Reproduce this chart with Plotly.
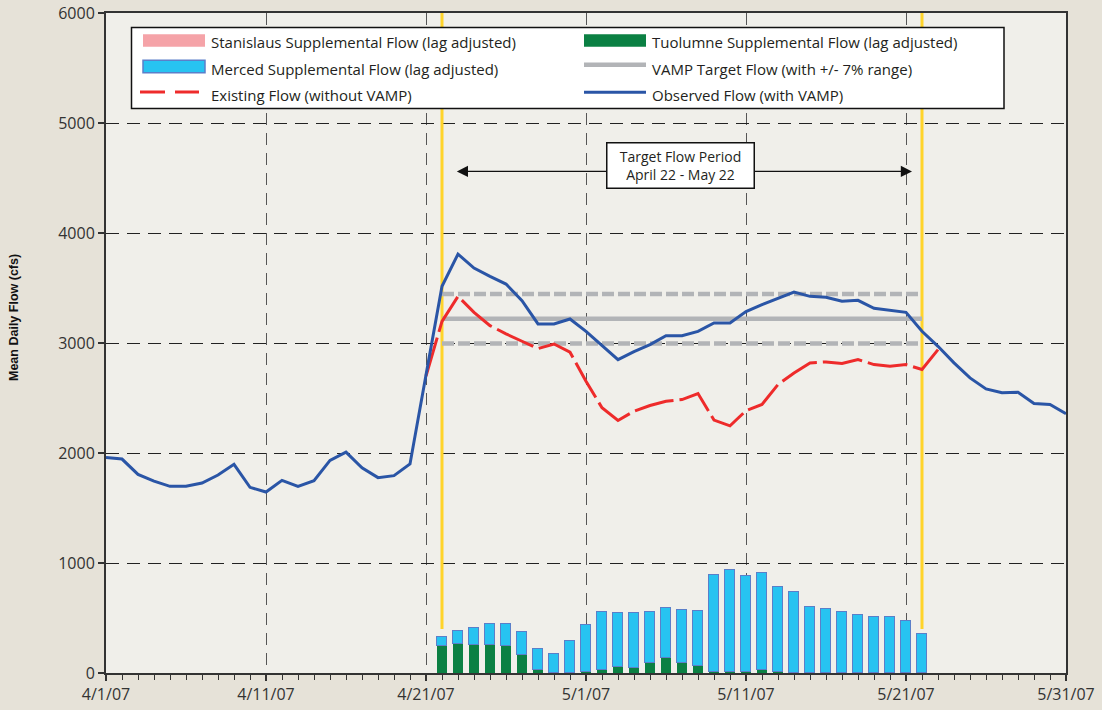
import pandas as pd
import plotly.graph_objects as go

# ---------------- data ----------------
line_dates = [d.strftime("%Y-%m-%d") for d in pd.date_range("2007-04-01", "2007-05-31")]
observed_flow = [
    1960, 1945, 1805, 1745, 1697, 1697, 1727, 1800, 1897, 1688,
    1645, 1751, 1697, 1748, 1933, 2008, 1866, 1776, 1794, 1900,
    2710, 3515, 3808, 3681, 3605, 3536, 3385, 3173, 3173, 3218,
    3106, 2975, 2849, 2922, 2985, 3067, 3067, 3106, 3182, 3182,
    3285, 3349, 3409, 3463, 3424, 3415, 3379, 3388, 3315, 3297,
    3279, 3106, 2970, 2819, 2683, 2583, 2547, 2553, 2450, 2441,
    2357,
]
existing_flow = [None] * 20 + [
    2700, 3197, 3424, 3279, 3158, 3083, 3016, 2949, 2991, 2916,
    2653, 2411, 2296, 2380, 2432, 2471, 2486, 2541, 2299, 2247,
    2385, 2441, 2622, 2728, 2819, 2828, 2813, 2849, 2804, 2789,
    2804, 2759, 2940,
] + [None] * 8

bar_dates = [d.strftime("%Y-%m-%d") for d in pd.date_range("2007-04-22", "2007-05-22")]
stanislaus = [0] * 31
tuolumne = [250, 260, 255, 255, 250, 163, 30, 0, 0, 5,
            24, 51, 42, 93, 133, 93, 63, 5, 8, 5,
            24, 5, 0, 0, 0, 0, 0, 0, 0, 0, 0]
merced = [80, 124, 150, 189, 200, 209, 190, 172, 293, 427,
          529, 493, 505, 466, 462, 481, 499, 887, 926, 881,
          883, 775, 735, 602, 581, 556, 529, 511, 505, 472, 354]

target_dates = ["2007-04-22", "2007-05-22"]
target_flow = 3220
target_upper = 3445
target_lower = 2995
period_marks = ["2007-04-22", "2007-05-22"]
period_mark_range = [400, 6000]

tick_dates = ["2007-04-01", "2007-04-11", "2007-04-21", "2007-05-01",
              "2007-05-11", "2007-05-21", "2007-05-31"]
tick_labels = ["4/1/07", "4/11/07", "4/21/07", "5/1/07", "5/11/07", "5/21/07", "5/31/07"]

legend_labels = [
    "Stanislaus Supplemental Flow (lag adjusted)",
    "Tuolumne Supplemental Flow (lag adjusted)",
    "Merced Supplemental Flow (lag adjusted)",
    "VAMP Target Flow (with +/- 7% range)",
    "Existing Flow (without VAMP)",
    "Observed Flow (with VAMP)",
]

# ---------------- styles ----------------
PINK = "#F5A3A8"
GREEN = "#0B8043"
CYAN = "#27C3F1"
CYAN_EDGE = "#5B7FC9"
GRAY = "#B2B4B7"
RED = "#EE2B2B"
BLUE = "#2A55A6"
YELLOW = "#FFD42A"
TXT = "#231F20"
FONT = "Open Sans"

W, H = 1102, 710
ML, MR, MT, MB = 106, 36, 13, 37
PW, PH = W - ML - MR, H - MT - MB


def px(x):
    return (x - ML) / PW


def py(y):
    return (H - MB - y) / PH


DAY_MS = 86400000

fig = go.Figure()

fig.add_trace(go.Bar(x=bar_dates, y=stanislaus, width=0.62 * DAY_MS,
                     marker=dict(color=PINK, line=dict(width=0)), showlegend=False))
fig.add_trace(go.Bar(x=bar_dates, y=tuolumne, width=0.62 * DAY_MS,
                     marker=dict(color=GREEN, line=dict(width=0)), showlegend=False))
fig.add_trace(go.Bar(x=bar_dates, y=merced, width=0.62 * DAY_MS,
                     marker=dict(color=CYAN, line=dict(color=CYAN_EDGE, width=1.2)),
                     showlegend=False))

for d in period_marks:
    fig.add_trace(go.Scatter(x=[d, d], y=period_mark_range, mode="lines",
                             line=dict(color=YELLOW, width=3), showlegend=False,
                             hoverinfo="skip"))

fig.add_trace(go.Scatter(x=target_dates, y=[target_upper] * 2, mode="lines",
                         line=dict(color=GRAY, width=4.5, dash="12px,4px"), showlegend=False))
fig.add_trace(go.Scatter(x=target_dates, y=[target_lower] * 2, mode="lines",
                         line=dict(color=GRAY, width=4.5, dash="12px,4px"), showlegend=False))
fig.add_trace(go.Scatter(x=target_dates, y=[target_flow] * 2, mode="lines",
                         line=dict(color=GRAY, width=4.5), showlegend=False))

fig.add_trace(go.Scatter(x=line_dates, y=existing_flow, mode="lines",
                         line=dict(color=RED, width=3, dash="40px,6px"), showlegend=False))
fig.add_trace(go.Scatter(x=line_dates, y=observed_flow, mode="lines",
                         line=dict(color=BLUE, width=3), showlegend=False))

shapes = []
annotations = []

# custom legend box
shapes.append(dict(type="rect", xref="paper", yref="paper",
                   x0=px(131.5), x1=px(1004), y0=py(27.5), y1=py(108.5),
                   fillcolor="white", line=dict(color="#111", width=1.5), layer="above"))
col_x = [143, 584]
sym_w = 62
row_y = [40.5, 66.5, 92.5]
text_y = [41.5, 68.5, 95]
shapes.append(dict(type="rect", xref="paper", yref="paper", x0=px(col_x[0]), x1=px(col_x[0] + sym_w),
                   y0=py(row_y[0] - 6.3), y1=py(row_y[0] + 6.3), fillcolor=PINK,
                   line=dict(width=0), layer="above"))
shapes.append(dict(type="rect", xref="paper", yref="paper", x0=px(col_x[1]), x1=px(col_x[1] + sym_w),
                   y0=py(row_y[0] - 6.3), y1=py(row_y[0] + 6.3), fillcolor=GREEN,
                   line=dict(width=0), layer="above"))
shapes.append(dict(type="rect", xref="paper", yref="paper", x0=px(col_x[0]), x1=px(col_x[0] + sym_w),
                   y0=py(row_y[1] - 6.3), y1=py(row_y[1] + 6.3), fillcolor=CYAN,
                   line=dict(color=CYAN_EDGE, width=1.5), layer="above"))
shapes.append(dict(type="line", xref="paper", yref="paper", x0=px(col_x[1]), x1=px(col_x[1] + sym_w),
                   y0=py(64.7), y1=py(64.7), line=dict(color=GRAY, width=4.5), layer="above"))
for a, b in [(140, 165), (175, 199)]:
    shapes.append(dict(type="line", xref="paper", yref="paper", x0=px(a), x1=px(b),
                       y0=py(92), y1=py(92), line=dict(color=RED, width=3), layer="above"))
shapes.append(dict(type="line", xref="paper", yref="paper", x0=px(col_x[1]), x1=px(col_x[1] + sym_w),
                   y0=py(92.2), y1=py(92.2), line=dict(color=BLUE, width=3), layer="above"))

text_x = [209, 650]
for i, lab in enumerate(legend_labels):
    annotations.append(dict(xref="paper", yref="paper", x=px(text_x[i % 2]), y=py(text_y[i // 2]),
                            text=lab, showarrow=False, xanchor="left", yanchor="middle",
                            font=dict(family=FONT, size=15, color=TXT)))

# target period arrow + box
annotations.append(dict(x="2007-05-21 09:00", y=4560, ax="2007-04-22 20:00", ay=4560,
                        xref="x", yref="y", axref="x", ayref="y", text="",
                        showarrow=True, arrowhead=2, startarrowhead=2, arrowside="end+start",
                        arrowsize=1.6, startarrowsize=1.6, arrowwidth=1.4, arrowcolor="#111"))
annotations.append(dict(x="2007-05-06 22:00", y=4614, xref="x", yref="y",
                        text="Target Flow Period<br>April 22 - May 22", showarrow=False,
                        font=dict(family=FONT, size=14, color=TXT), bgcolor="white",
                        bordercolor="#111", borderwidth=1.5, borderpad=3, width=140, height=38,
                        align="center"))

# y-axis title
annotations.append(dict(xref="paper", yref="paper", x=px(14), y=py(318), text="<b>Mean Daily Flow (cfs)</b>",
                        textangle=-90, showarrow=False, xanchor="center", yanchor="middle",
                        font=dict(family="Liberation Sans, Arial", size=12.5, color="#111")))

fig.update_layout(
    width=W, height=H,
    margin=dict(l=ML, r=MR, t=MT, b=MB, autoexpand=False),
    paper_bgcolor="#E6E2D8",
    plot_bgcolor="#F0EFEA",
    barmode="stack",
    bargap=0,
    showlegend=False,
    hovermode=False,
    shapes=shapes,
    annotations=annotations,
    xaxis=dict(
        type="date", automargin=False,
        range=["2007-04-01", "2007-05-31"],
        tickmode="array", tickvals=tick_dates, ticktext=tick_labels,
        ticks="outside", ticklen=6, tickwidth=1.5, tickcolor="#333",
        minor=dict(dtick=DAY_MS, tick0="2007-04-01", ticks="outside", ticklen=5,
                   tickwidth=1.3, tickcolor="#333", showgrid=False),
        showgrid=True, gridcolor="#555", gridwidth=1.2, griddash="12px,8px",
        showline=True, linecolor="#333", linewidth=2, mirror=True,
        tickfont=dict(family=FONT, size=16, color="#333"),
        zeroline=False,
    ),
    yaxis=dict(
        automargin=False,
        range=[0, 6000], dtick=1000, tick0=0,
        ticks="outside", ticklen=6, tickwidth=1.5, tickcolor="#333",
        showgrid=True, gridcolor="#222", gridwidth=1.2, griddash="13px,8px",
        showline=True, linecolor="#333", linewidth=2, mirror=True,
        tickfont=dict(family=FONT, size=16, color="#333"),
        zeroline=False,
    ),
)

fig.write_html("out.html", config={"displayModeBar": False},
               post_script="document.body.style.margin='0';document.body.style.overflow='hidden';")
